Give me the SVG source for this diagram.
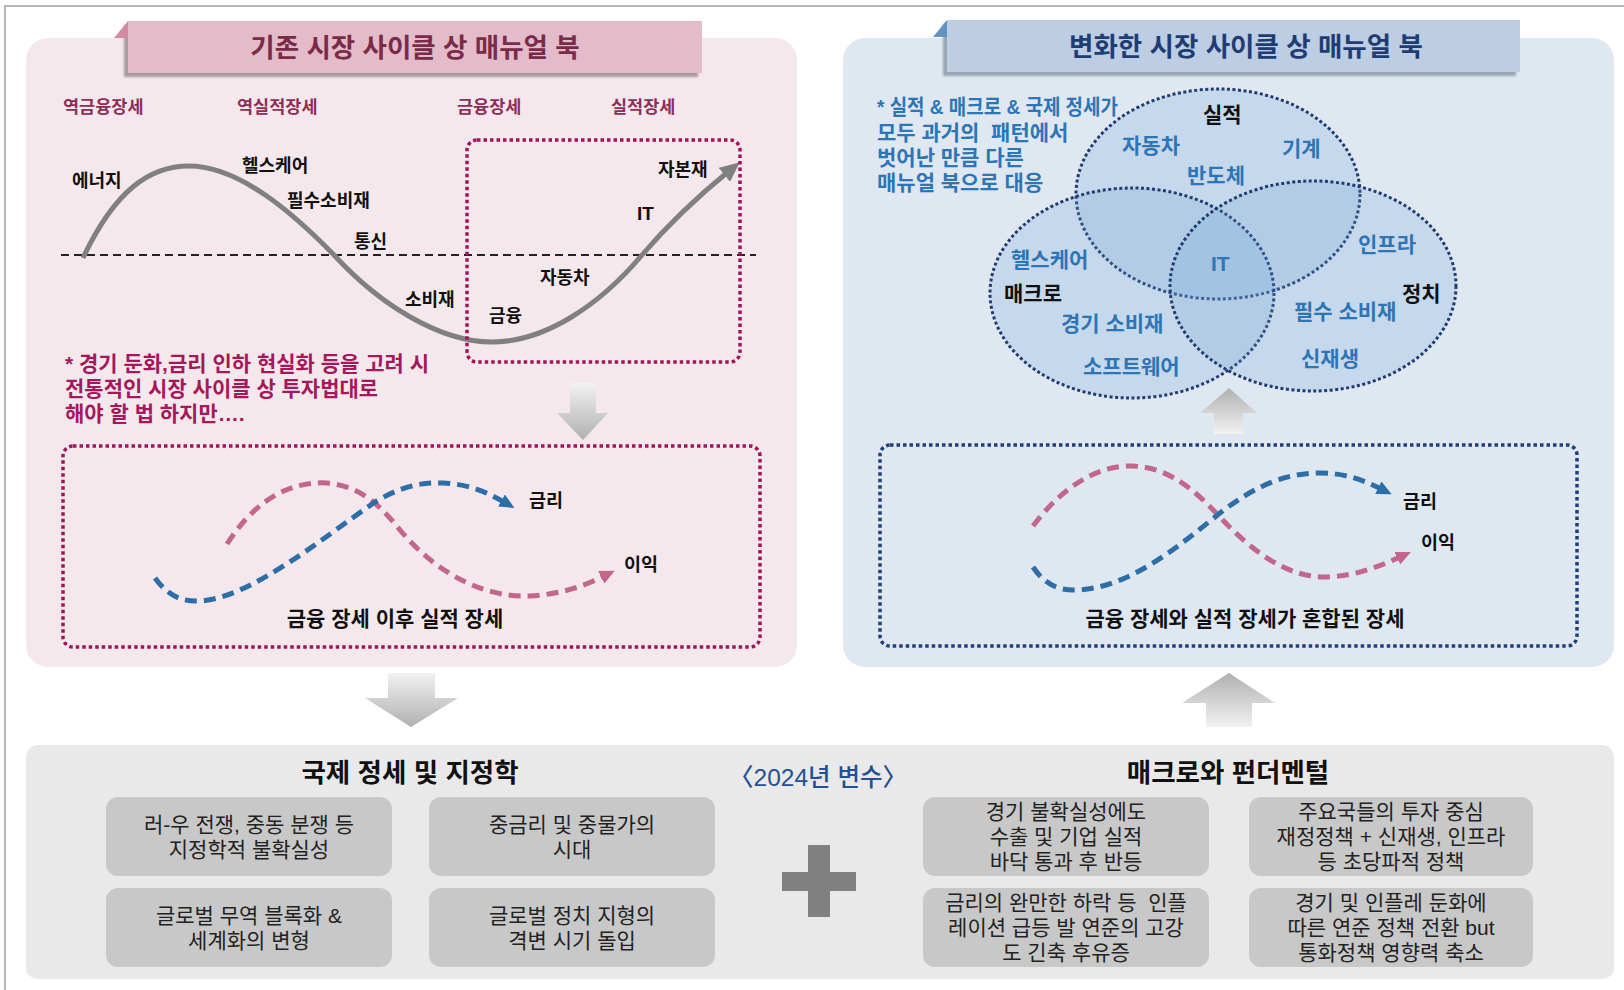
<svg xmlns="http://www.w3.org/2000/svg" width="1624" height="990" viewBox="0 0 1624 990">
<defs>
<style>
text { font-family: 'Liberation Sans', 'Noto Sans CJK KR', sans-serif; }
.phase { font-size:17.5px; font-weight:700; fill:#8e2f58; }
.lab { font-size:18px; font-weight:700; fill:#111; }
.cap { font-size:21px; font-weight:700; fill:#111; text-anchor:middle; }
.noteL { font-size:21px; font-weight:700; fill:#a3195b; }
.noteR { font-size:21px; font-weight:700; fill:#2e75b6; }
.vb { font-size:21px; font-weight:700; fill:#2e75b6; }
.vk { font-size:21px; font-weight:700; fill:#111; }
.head { font-size:26.5px; font-weight:700; fill:#111; text-anchor:middle; }
.bt { font-size:21px; fill:#222; text-anchor:middle; }
.box { fill:#c8c8c8; }
.dotP { fill:none; stroke:#a01558; stroke-width:3.5; stroke-dasharray:3.5 3; }
.dotB { fill:none; stroke:#1f3f7a; stroke-width:3.5; stroke-dasharray:3.5 3; }
.ven { fill:#6fa3d6; fill-opacity:0.22; stroke:#1f3c73; stroke-width:3; stroke-dasharray:3 2.5; }
.pinkc { fill:none; stroke:#c3668b; stroke-width:5; stroke-dasharray:12 7; }
.bluec { fill:none; stroke:#2d6ea8; stroke-width:5; stroke-dasharray:12 7; }
</style>
<linearGradient id="gDown" x1="0" y1="0" x2="0" y2="1">
<stop offset="0" stop-color="#f2f2f2"/><stop offset="1" stop-color="#b0b0b0"/>
</linearGradient>
<linearGradient id="gUp" x1="0" y1="0" x2="0" y2="1">
<stop offset="0" stop-color="#b0b0b0"/><stop offset="1" stop-color="#f2f2f2"/>
</linearGradient>
<filter id="sh" x="-5%" y="-20%" width="110%" height="140%"><feGaussianBlur stdDeviation="1.2"/></filter>
<marker id="mGray" markerUnits="userSpaceOnUse" markerWidth="20" markerHeight="18" viewBox="0 0 20 18" refX="6" refY="9" orient="auto">
<path d="M0,0 L20,9 L0,18 z" fill="#808080"/>
</marker>
<marker id="mPink" markerUnits="userSpaceOnUse" markerWidth="15" markerHeight="14" viewBox="0 0 15 14" refX="3" refY="7" orient="auto">
<path d="M0,0 L15,7 L0,14 z" fill="#c3668b"/>
</marker>
<marker id="mBlue" markerUnits="userSpaceOnUse" markerWidth="15" markerHeight="14" viewBox="0 0 15 14" refX="3" refY="7" orient="auto">
<path d="M0,0 L15,7 L0,14 z" fill="#2d6ea8"/>
</marker>
</defs>

<rect x="0" y="0" width="1624" height="990" fill="#ffffff"/>
<rect x="5" y="6" width="1640" height="1010" fill="none" stroke="#a0a0a0" stroke-width="1.5"/>

<g id="left-panel">
<rect x="26" y="38" width="771" height="629" rx="22" fill="#f5e8ed"/>
<rect x="124" y="25" width="574" height="52" fill="#a89aa0" filter="url(#sh)"/>
<rect x="128" y="21" width="574" height="52" fill="#e4bcc9"/>
<polygon points="114,38 128,21 128,38" fill="#d38aa3"/>
<text x="415" y="57" text-anchor="middle" style="font-size:26.5px;font-weight:700;fill:#7a2b4a">기존 시장 사이클 상 매뉴얼 북</text>
</g>

<g id="right-panel">
<rect x="843" y="38" width="771" height="629" rx="22" fill="#dfe7f1"/>
<rect x="943" y="24" width="573" height="52" fill="#9aa5b3" filter="url(#sh)"/>
<rect x="947" y="20" width="573" height="52" fill="#bccde4"/>
<polygon points="933,37 947,20 947,37" fill="#6590c2"/>
<text x="1246" y="56" text-anchor="middle" style="font-size:26.5px;font-weight:700;fill:#1f3d73">변화한 시장 사이클 상 매뉴얼 북</text>
</g>

<g id="traditional-cycle">
<text class="phase" x="63" y="113">역금융장세</text>
<text class="phase" x="237" y="113">역실적장세</text>
<text class="phase" x="457" y="113">금융장세</text>
<text class="phase" x="611" y="113">실적장세</text>
<line x1="61" y1="255" x2="756" y2="255" stroke="#222" stroke-width="1.8" stroke-dasharray="8 5"/>
<path d="M83,258 C115,190 150,166 189,166 C240,166 295,215 334,255 C380,305 440,342 492,342 C545,342 600,305 642,255 C672,220 702,193 729,171" fill="none" stroke="#808080" stroke-width="5" marker-end="url(#mGray)"/>
<text class="lab" x="72" y="187">에너지</text>
<text class="lab" x="242" y="172">헬스케어</text>
<text class="lab" x="287" y="207">필수소비재</text>
<text class="lab" x="354" y="248">통신</text>
<text class="lab" x="405" y="306">소비재</text>
<text class="lab" x="489" y="322">금융</text>
<text class="lab" x="540" y="284">자동차</text>
<text class="lab" x="637" y="220" style="font-size:19px">IT</text>
<text class="lab" x="658" y="176">자본재</text>
<rect class="dotP" x="467" y="140" width="273" height="222" rx="10"/>
</g>

<g id="note-left">
<text class="noteL" x="65" y="371">* 경기 둔화,금리 인하 현실화 등을 고려 시</text>
<text class="noteL" x="65" y="396">전통적인 시장 사이클 상 투자법대로</text>
<text class="noteL" x="65" y="421">해야 할 법 하지만….</text>
</g>

<g id="left-sequence">
<rect class="dotP" x="63" y="446" width="697" height="201" rx="10"/>
<path class="pinkc" d="M227,544 C255,500 290,481 327,483 C360,486 380,505 400,530 C440,578 490,598 530,596 C565,594 588,584 604,576" marker-end="url(#mPink)"/>
<path class="bluec" d="M155,578 C168,596 182,602 200,601 C250,598 320,540 375,502 C400,487 420,482 443,483 C470,484 490,494 504,502" marker-end="url(#mBlue)"/>
<text class="lab" x="529" y="507" style="font-size:18.5px">금리</text>
<text class="lab" x="624" y="571" style="font-size:18.5px">이익</text>
<text class="cap" x="395" y="626">금융 장세 이후 실적 장세</text>
</g>

<g id="note-right">
<text class="noteR" x="877" y="114" textLength="241" lengthAdjust="spacingAndGlyphs">* 실적 &amp; 매크로 &amp; 국제 정세가</text>
<text class="noteR" x="877" y="140" xml:space="preserve">모두 과거의  패턴에서</text>
<text class="noteR" x="877" y="165">벗어난 만큼 다른</text>
<text class="noteR" x="877" y="190">매뉴얼 북으로 대응</text>
</g>

<g id="venn">
<ellipse class="ven" cx="1218" cy="194" rx="142" ry="105"/>
<ellipse class="ven" cx="1132" cy="293" rx="142" ry="105"/>
<ellipse class="ven" cx="1313" cy="286" rx="143" ry="105"/>
<text class="vk" x="1203" y="122">실적</text>
<text class="vb" x="1122" y="153">자동차</text>
<text class="vb" x="1282" y="156">기계</text>
<text class="vb" x="1187" y="183">반도체</text>
<text class="vb" x="1011" y="267">헬스케어</text>
<text class="vk" x="1004" y="301">매크로</text>
<text class="vb" x="1061" y="331">경기 소비재</text>
<text class="vb" x="1083" y="374">소프트웨어</text>
<text class="vb" x="1211" y="271">IT</text>
<text class="vb" x="1358" y="252">인프라</text>
<text class="vk" x="1402" y="301">정치</text>
<text class="vb" x="1294" y="319">필수 소비재</text>
<text class="vb" x="1301" y="366">신재생</text>
</g>

<g id="right-sequence">
<rect class="dotB" x="880" y="445" width="697" height="201" rx="10"/>
<path class="pinkc" d="M1033,526 C1060,490 1095,465 1132,466 C1165,467 1190,485 1218,515 C1255,555 1290,578 1327,577 C1355,576 1378,567 1400,557" marker-end="url(#mPink)"/>
<path class="bluec" d="M1033,567 C1045,585 1060,591 1077,590 C1130,588 1180,545 1220,513 C1255,486 1285,473 1320,473 C1345,473 1363,480 1381,489" marker-end="url(#mBlue)"/>
<text class="lab" x="1403" y="508" style="font-size:18.5px">금리</text>
<text class="lab" x="1421" y="549" style="font-size:18.5px">이익</text>
<text class="cap" x="1245" y="626">금융 장세와 실적 장세가 혼합된 장세</text>
</g>

<g id="variables-2024">
<rect x="26" y="745" width="1588" height="234" rx="12" fill="#e9e9e9"/>
<text class="head" x="410" y="782">국제 정세 및 지정학</text>
<text class="head" x="1228" y="782">매크로와 펀더멘털</text>
<text x="818" y="786" text-anchor="middle" style="font-size:24.5px;font-weight:500;fill:#24508f">〈2024년 변수〉</text>
<rect x="808" y="845" width="22" height="72" fill="#808080"/>
<rect x="782" y="872" width="74" height="19" fill="#808080"/>
</g>

<g id="box-geo-1">
<rect class="box" x="106" y="797" width="286" height="79" rx="12"/>
<text class="bt" x="249" y="832">러-우 전쟁, 중동 분쟁 등</text>
<text class="bt" x="249" y="857">지정학적 불확실성</text>
</g>
<g id="box-geo-2">
<rect class="box" x="429" y="797" width="286" height="79" rx="12"/>
<text class="bt" x="572" y="832">중금리 및 중물가의</text>
<text class="bt" x="572" y="857">시대</text>
</g>
<g id="box-geo-3">
<rect class="box" x="106" y="888" width="286" height="79" rx="12"/>
<text class="bt" x="249" y="923">글로벌 무역 블록화 &amp;</text>
<text class="bt" x="249" y="948">세계화의 변형</text>
</g>
<g id="box-geo-4">
<rect class="box" x="429" y="888" width="286" height="79" rx="12"/>
<text class="bt" x="572" y="923">글로벌 정치 지형의</text>
<text class="bt" x="572" y="948">격변 시기 돌입</text>
</g>
<g id="box-macro-1">
<rect class="box" x="923" y="797" width="286" height="79" rx="12"/>
<text class="bt" x="1066" y="819">경기 불확실성에도</text>
<text class="bt" x="1066" y="844">수출 및 기업 실적</text>
<text class="bt" x="1066" y="869">바닥 통과 후 반등</text>
</g>
<g id="box-macro-2">
<rect class="box" x="1249" y="797" width="284" height="79" rx="12"/>
<text class="bt" x="1391" y="819">주요국들의 투자 중심</text>
<text class="bt" x="1391" y="844">재정정책 + 신재생, 인프라</text>
<text class="bt" x="1391" y="869">등 초당파적 정책</text>
</g>
<g id="box-macro-3">
<rect class="box" x="923" y="888" width="286" height="79" rx="12"/>
<text class="bt" x="1066" y="910" xml:space="preserve">금리의 완만한 하락 등  인플</text>
<text class="bt" x="1066" y="935">레이션 급등 발 연준의 고강</text>
<text class="bt" x="1066" y="960">도 긴축 후유증</text>
</g>
<g id="box-macro-4">
<rect class="box" x="1249" y="888" width="284" height="79" rx="12"/>
<text class="bt" x="1391" y="910">경기 및 인플레 둔화에</text>
<text class="bt" x="1391" y="935">따른 연준 정책 전환 but</text>
<text class="bt" x="1391" y="960">통화정책 영향력 축소</text>
</g>

<g id="connectors">
<polygon points="570,383 596,383 596,413 608,413 583,440 557,413 570,413" fill="url(#gDown)"/>
<polygon points="388,673 435,673 435,698 458,698 411,727 365,698 388,698" fill="url(#gDown)"/>
<polygon points="1229,388 1257,413 1243,413 1243,434 1214,434 1214,413 1200,413" fill="url(#gUp)"/>
<polygon points="1229,673 1275,703 1252,703 1252,727 1206,727 1206,703 1182,703" fill="url(#gUp)"/>
</g>
</svg>
